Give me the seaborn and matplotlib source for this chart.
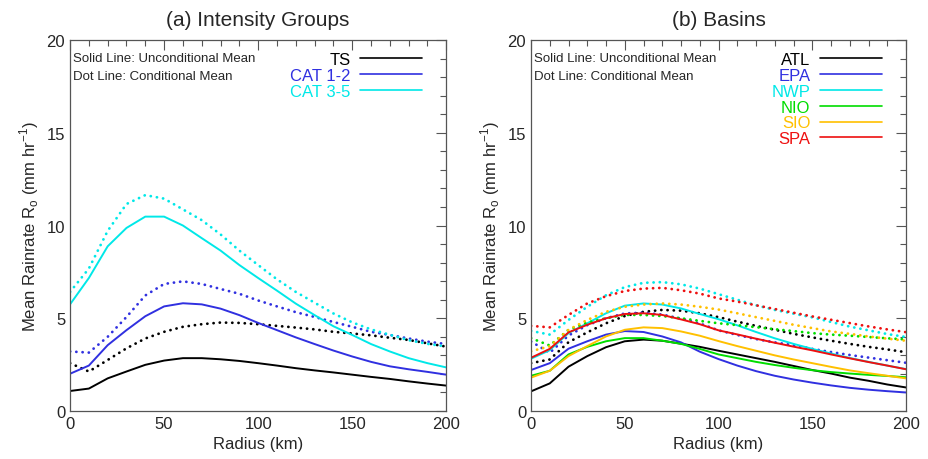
import numpy as np
import pandas as pd
import seaborn as sb
import matplotlib.pyplot as plt
from matplotlib.lines import Line2D
from matplotlib.ticker import MultipleLocator

radius = list(range(0, 201, 10))

# (a) intensity groups: unconditional (solid) and conditional (dotted) means
ts_uncond = [1.08, 1.21, 1.76, 2.13, 2.49, 2.72, 2.85, 2.85, 2.79, 2.70, 2.58,
             2.45, 2.31, 2.19, 2.08, 1.96, 1.84, 1.73, 1.60, 1.48, 1.37]
ts_cond = [2.58, 2.13, 2.75, 3.38, 3.91, 4.27, 4.54, 4.68, 4.77, 4.75, 4.68,
           4.59, 4.50, 4.40, 4.27, 4.18, 4.08, 3.95, 3.83, 3.65, 3.47]
cat12_uncond = [2.01, 2.45, 3.55, 4.36, 5.11, 5.64, 5.81, 5.75, 5.52, 5.17, 4.75,
                4.36, 3.97, 3.61, 3.26, 2.94, 2.65, 2.41, 2.25, 2.11, 1.96]
cat12_cond = [3.21, 3.15, 4.00, 5.07, 6.23, 6.85, 6.99, 6.85, 6.58, 6.32, 5.96,
              5.64, 5.33, 5.07, 4.80, 4.54, 4.27, 4.10, 3.91, 3.74, 3.61]
cat35_uncond = [5.75, 7.17, 8.88, 9.87, 10.48, 10.48, 10.00, 9.32, 8.65, 7.87, 7.17,
                6.49, 5.79, 5.17, 4.57, 4.10, 3.61, 3.21, 2.85, 2.58, 2.35]
cat35_cond = [6.42, 7.68, 9.71, 11.16, 11.64, 11.45, 10.87, 10.29, 9.52, 8.65, 7.87,
              7.10, 6.42, 5.84, 5.26, 4.78, 4.40, 4.11, 3.82, 3.62, 3.48]

# (b) basins
atl_uncond = [1.06, 1.49, 2.39, 2.96, 3.44, 3.76, 3.85, 3.79, 3.63, 3.46, 3.25,
              3.05, 2.85, 2.65, 2.43, 2.21, 2.02, 1.80, 1.63, 1.43, 1.27]
atl_cond = [2.58, 2.78, 3.71, 4.24, 4.73, 5.12, 5.35, 5.45, 5.41, 5.27, 5.06,
            4.82, 4.59, 4.38, 4.16, 3.97, 3.79, 3.62, 3.46, 3.32, 3.17]
epa_uncond = [2.21, 2.58, 3.36, 3.76, 4.12, 4.31, 4.26, 4.02, 3.70, 3.20, 2.80,
              2.45, 2.15, 1.90, 1.70, 1.53, 1.38, 1.25, 1.15, 1.07, 1.00]
epa_cond = [3.75, 3.14, 4.07, 4.63, 5.00, 5.26, 5.30, 5.20, 4.98, 4.72, 4.35,
            4.10, 3.88, 3.70, 3.55, 3.35, 3.18, 3.02, 2.88, 2.74, 2.60]
nwp_uncond = [2.82, 3.28, 4.20, 4.73, 5.27, 5.68, 5.80, 5.74, 5.53, 5.23, 4.95,
              4.62, 4.26, 3.92, 3.62, 3.35, 3.10, 2.86, 2.65, 2.45, 2.26]
nwp_cond = [4.32, 4.12, 4.91, 5.62, 6.24, 6.68, 6.91, 6.95, 6.83, 6.60, 6.30,
            6.00, 5.70, 5.45, 5.25, 5.05, 4.80, 4.55, 4.35, 4.15, 3.99]
nio_uncond = [1.90, 2.17, 3.05, 3.46, 3.76, 3.93, 3.93, 3.79, 3.62, 3.35, 3.05,
              2.85, 2.65, 2.48, 2.33, 2.20, 2.10, 2.02, 1.95, 1.89, 1.82]
nio_cond = [3.93, 3.53, 4.38, 4.77, 5.00, 5.18, 5.18, 5.12, 5.00, 4.86, 4.73,
            4.63, 4.52, 4.41, 4.31, 4.20, 4.12, 4.06, 3.99, 3.92, 3.86]
sio_uncond = [1.80, 2.17, 2.96, 3.50, 4.02, 4.38, 4.51, 4.47, 4.29, 4.06, 3.77,
              3.50, 3.25, 3.00, 2.78, 2.58, 2.38, 2.19, 2.04, 1.90, 1.76]
sio_cond = [3.22, 3.49, 4.38, 4.91, 5.35, 5.62, 5.74, 5.80, 5.74, 5.62, 5.47,
            5.27, 5.06, 4.86, 4.65, 4.47, 4.29, 4.16, 4.02, 3.90, 3.79]
spa_uncond = [2.87, 3.35, 4.24, 4.65, 5.00, 5.23, 5.27, 5.18, 4.94, 4.68, 4.35,
              4.13, 3.90, 3.68, 3.47, 3.27, 3.05, 2.84, 2.64, 2.45, 2.25]
spa_cond = [4.59, 4.51, 5.18, 5.80, 6.19, 6.47, 6.60, 6.64, 6.51, 6.33, 6.07,
            5.90, 5.70, 5.50, 5.30, 5.10, 4.92, 4.74, 4.56, 4.40, 4.25]

intensity_names = ["TS", "CAT 1-2", "CAT 3-5"]
intensity_colors = ["black", "#3030e0", "#00e8e8"]
intensity_data = [(ts_uncond, ts_cond), (cat12_uncond, cat12_cond),
                  (cat35_uncond, cat35_cond)]

basin_names = ["ATL", "EPA", "NWP", "NIO", "SIO", "SPA"]
basin_colors = ["black", "#3030e0", "#00e8e8", "#00dd00", "#ffc000", "#ee1010"]
basin_data = [(atl_uncond, atl_cond), (epa_uncond, epa_cond), (nwp_uncond, nwp_cond),
              (nio_uncond, nio_cond), (sio_uncond, sio_cond), (spa_uncond, spa_cond)]

sb.set_style("white")
plt.rcParams["font.family"] = ["Liberation Sans", "DejaVu Sans"]

fig = plt.figure(figsize=(9.29, 4.6), dpi=100)
ax1 = fig.add_axes([0.0754, 0.1043, 0.405, 0.8065])
ax2 = fig.add_axes([0.5716, 0.1043, 0.4037, 0.8065])


def draw_panel(ax, names, colors, data, title):
    for name, col, (unc, con) in zip(names, colors, data):
        lines_before = len(ax.lines)
        sb.lineplot(x=radius, y=con, ax=ax, color=col, linewidth=2.0)
        dotted = ax.lines[lines_before]
        dotted.set_linestyle((0, (0.05, 2.2)))
        dotted.set_dash_capstyle("round")
        sb.lineplot(x=radius, y=unc, ax=ax, color=col, linewidth=1.4)
    ax.set_xlim(0, 200)
    ax.set_ylim(0, 20)
    ax.xaxis.set_major_locator(MultipleLocator(50))
    ax.xaxis.set_minor_locator(MultipleLocator(10))
    ax.yaxis.set_major_locator(MultipleLocator(5))
    ax.yaxis.set_minor_locator(MultipleLocator(1))
    ax.tick_params(which="both", direction="in", top=True, right=True,
                   color="#555555", labelsize=12)
    ax.tick_params(which="major", length=7, width=0.8)
    ax.tick_params(which="minor", length=4, width=0.8)
    for sp in ax.spines.values():
        sp.set_color("#555555")
        sp.set_linewidth(0.9)
    ax.set_title(title, fontsize=15, pad=11)
    ax.set_xlabel("Radius (km)", fontsize=12)
    ax.set_ylabel("Mean Rainrate R$_\\mathregular{o}$ (mm hr$^\\mathregular{-1}$)",
                  fontsize=12)
    ax.text(0.008, 0.968, "Solid Line: Unconditional Mean", transform=ax.transAxes,
            fontsize=9.5, va="top", ha="left")
    ax.text(0.008, 0.92, "Dot Line: Conditional Mean", transform=ax.transAxes,
            fontsize=9.5, va="top", ha="left")
    handles = [Line2D([], [], color=c, linewidth=1.2) for c in colors]
    ax.legend(handles, names, loc="upper right", bbox_to_anchor=(0.958, 0.99),
              frameon=False, markerfirst=False, fontsize=12,
              handlelength=3.7, handletextpad=0.6, labelspacing=0.05,
              borderpad=0, labelcolor=colors)


draw_panel(ax1, intensity_names, intensity_colors, intensity_data,
           "(a) Intensity Groups")
draw_panel(ax2, basin_names, basin_colors, basin_data, "(b) Basins")

plt.savefig("out.png", dpi=100)
